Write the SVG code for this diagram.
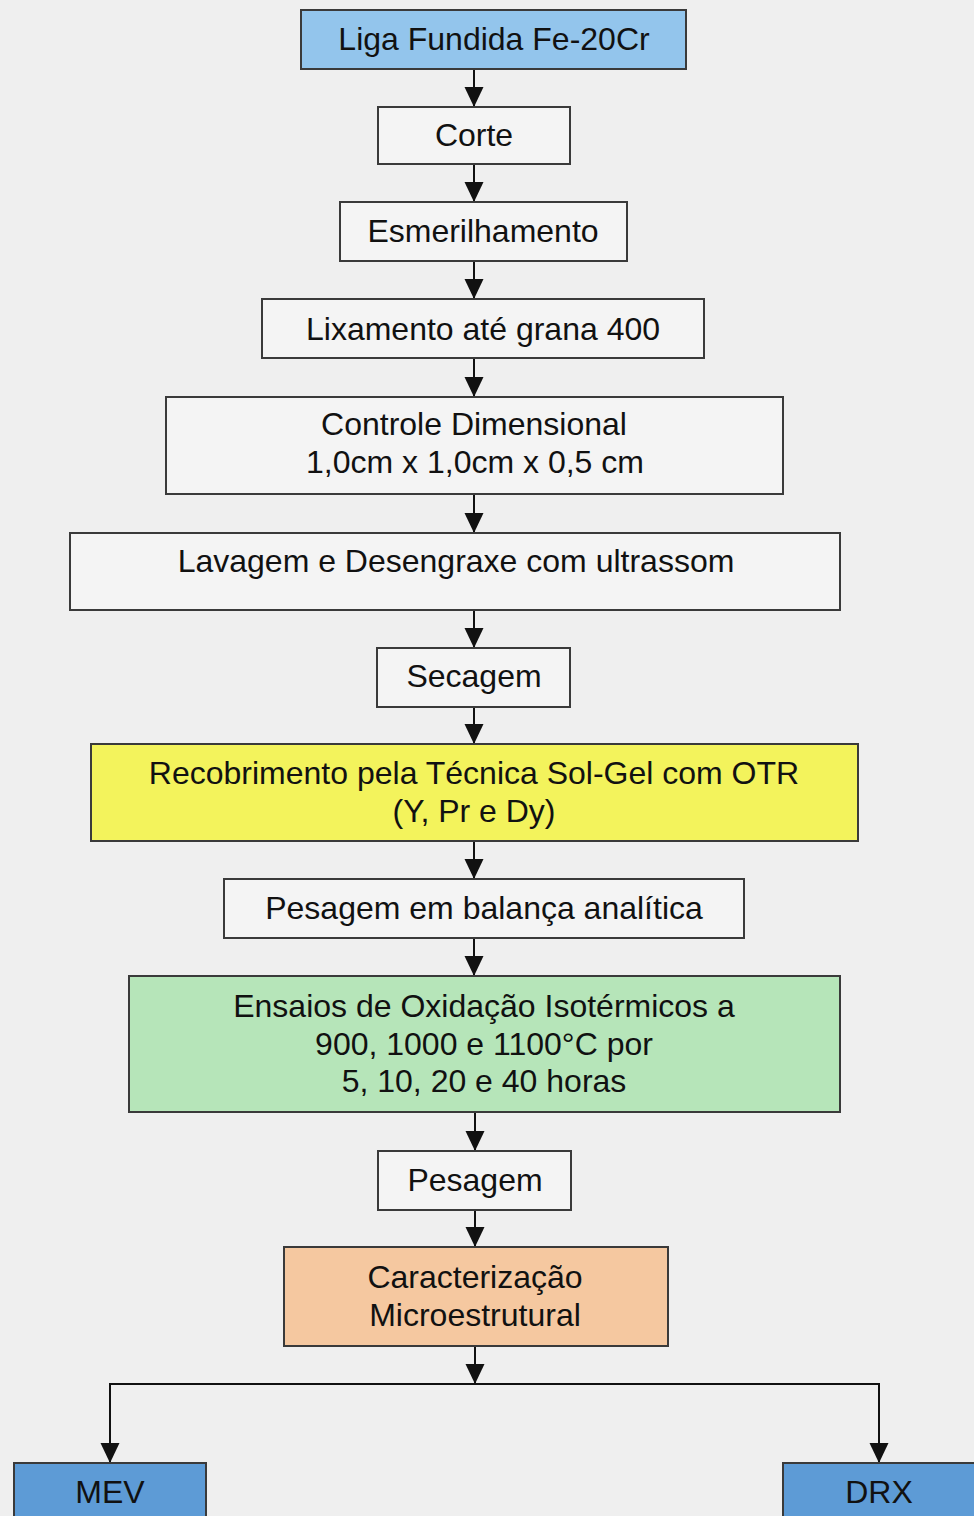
<svg xmlns="http://www.w3.org/2000/svg" width="974" height="1516" viewBox="0 0 974 1516">
  <defs>
    <marker id="arrow" markerUnits="userSpaceOnUse" markerWidth="21" markerHeight="20" refX="20" refY="9.5" orient="auto">
      <path d="M0,0 L20,9.5 L0,19 Z" fill="#111"/>
    </marker>
    <style>
      .box { stroke: #3a3a3a; stroke-width: 2; }
      .plain { fill: #f4f4f4; }
      .blue { fill: #93c5ec; }
      .deep { fill: #5d9bd6; }
      .yellow { fill: #f3f35c; }
      .green { fill: #b6e5b9; }
      .orange { fill: #f5c8a0; }
      text { font-family: "Liberation Sans", Arial, sans-serif; font-size: 32px; fill: #111; text-anchor: middle; }
      .edge { stroke: #111; stroke-width: 2; fill: none; }
    </style>
  </defs>

  <rect width="974" height="1516" fill="#efefef"/>

  <g id="connectors">
    <line class="edge" x1="474" y1="69" x2="474" y2="107" marker-end="url(#arrow)"/>
    <line class="edge" x1="474" y1="164" x2="474" y2="202" marker-end="url(#arrow)"/>
    <line class="edge" x1="474" y1="261" x2="474" y2="299" marker-end="url(#arrow)"/>
    <line class="edge" x1="474" y1="358" x2="474" y2="397" marker-end="url(#arrow)"/>
    <line class="edge" x1="474" y1="494" x2="474" y2="533" marker-end="url(#arrow)"/>
    <line class="edge" x1="474" y1="610" x2="474" y2="648" marker-end="url(#arrow)"/>
    <line class="edge" x1="474" y1="707" x2="474" y2="744" marker-end="url(#arrow)"/>
    <line class="edge" x1="474" y1="841" x2="474" y2="879" marker-end="url(#arrow)"/>
    <line class="edge" x1="474" y1="938" x2="474" y2="976" marker-end="url(#arrow)"/>
    <line class="edge" x1="475" y1="1112" x2="475" y2="1151" marker-end="url(#arrow)"/>
    <line class="edge" x1="475" y1="1210" x2="475" y2="1247" marker-end="url(#arrow)"/>
    <line class="edge" x1="475" y1="1346" x2="475" y2="1384" marker-end="url(#arrow)"/>
    <polyline class="edge" points="110,1384 879,1384"/>
    <line class="edge" x1="110" y1="1383" x2="110" y2="1463" marker-end="url(#arrow)"/>
    <line class="edge" x1="879" y1="1383" x2="879" y2="1463" marker-end="url(#arrow)"/>
  </g>

  <g id="liga">
    <rect class="box blue" x="301" y="10" width="385" height="59"/>
    <text x="494" y="50">Liga Fundida Fe-20Cr</text>
  </g>
  <g id="corte">
    <rect class="box plain" x="378" y="107" width="192" height="57"/>
    <text x="474" y="146">Corte</text>
  </g>
  <g id="esmerilhamento">
    <rect class="box plain" x="340" y="202" width="287" height="59"/>
    <text x="483" y="242">Esmerilhamento</text>
  </g>
  <g id="lixamento">
    <rect class="box plain" x="262" y="299" width="442" height="59"/>
    <text x="483" y="340">Lixamento até grana 400</text>
  </g>
  <g id="controle">
    <rect class="box plain" x="166" y="397" width="617" height="97"/>
    <text x="474" y="435">Controle Dimensional</text>
    <text x="475" y="473">1,0cm x 1,0cm x 0,5 cm</text>
  </g>
  <g id="lavagem">
    <rect class="box plain" x="70" y="533" width="770" height="77"/>
    <text x="456" y="572">Lavagem e Desengraxe com ultrassom</text>
  </g>
  <g id="secagem">
    <rect class="box plain" x="377" y="648" width="193" height="59"/>
    <text x="474" y="687">Secagem</text>
  </g>
  <g id="recobrimento">
    <rect class="box yellow" x="91" y="744" width="767" height="97"/>
    <text x="474" y="784">Recobrimento pela Técnica Sol-Gel com OTR</text>
    <text x="474" y="822">(Y, Pr e Dy)</text>
  </g>
  <g id="pesagem-balanca">
    <rect class="box plain" x="224" y="879" width="520" height="59"/>
    <text x="484" y="919">Pesagem em balança analítica</text>
  </g>
  <g id="ensaios">
    <rect class="box green" x="129" y="976" width="711" height="136"/>
    <text x="484" y="1017">Ensaios de Oxidação Isotérmicos a</text>
    <text x="484" y="1055">900, 1000 e 1100°C por</text>
    <text x="484" y="1092">5, 10, 20 e 40 horas</text>
  </g>
  <g id="pesagem">
    <rect class="box plain" x="378" y="1151" width="193" height="59"/>
    <text x="475" y="1191">Pesagem</text>
  </g>
  <g id="caracterizacao">
    <rect class="box orange" x="284" y="1247" width="384" height="99"/>
    <text x="475" y="1288">Caracterização</text>
    <text x="475" y="1326">Microestrutural</text>
  </g>
  <g id="mev">
    <rect class="box deep" x="14" y="1463" width="192" height="70"/>
    <text x="110" y="1503">MEV</text>
  </g>
  <g id="drx">
    <rect class="box deep" x="783" y="1463" width="210" height="70"/>
    <text x="879" y="1503">DRX</text>
  </g>
</svg>
